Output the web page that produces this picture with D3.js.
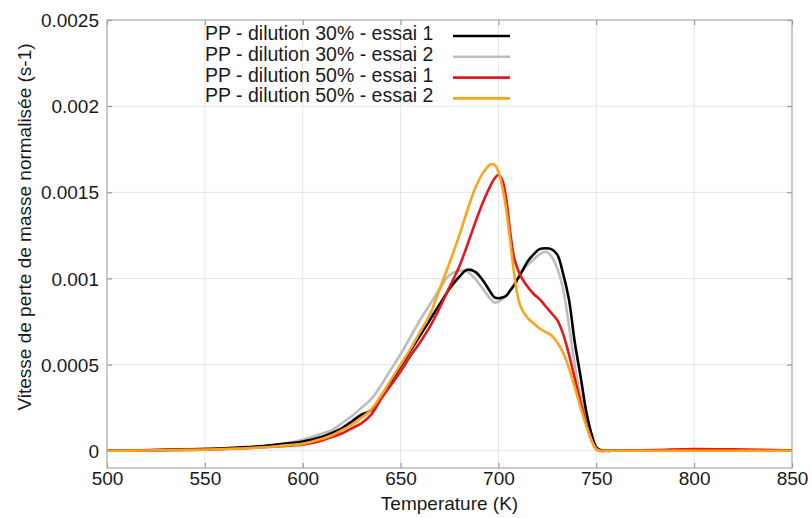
<!DOCTYPE html>
<html><head><meta charset="utf-8">
<script src="https://cdn.jsdelivr.net/npm/d3@7"></script>
<style>
body{margin:0;background:#fff;}
text{font-family:"Liberation Sans",Arial,sans-serif;fill:#1a1a1a;}
</style></head>
<body><svg id="c" width="812" height="518"></svg>
<script>
const temps = [500,520,540,560,580,590,600,610,615,620,625,630,635,640,645,650,655,660,665,670,675,680,684,688,692,696,698,700,702,704,706,708,710,712,715,718,721,724,727,730,733,736,739,742,745,748,750,752,755,760,780,800,820,850];
const black30_1 = [0,0.000003,0.000008,0.000015,0.000028,0.00004,0.000054,0.000082,0.000103,0.00013,0.00017,0.00021,0.000235,0.00031,0.0004,0.00049,0.00058,0.00067,0.00076,0.00085,0.00094,0.00101,0.00105,0.00104,0.00099,0.00092,0.00089,0.000885,0.00089,0.0009,0.00093,0.00096,0.001,0.00104,0.0011,0.00114,0.00117,0.001175,0.00117,0.00114,0.00103,0.00088,0.00063,0.00043,0.00022,0.00008,0.00002,0.000004,0,0,0,0,0,0];
const gray30_2 = [0,0.000004,0.00001,0.000012,0.000025,0.00004,0.000064,0.0001,0.00012,0.00016,0.0002,0.00025,0.0003,0.00038,0.00047,0.00056,0.00066,0.00076,0.00085,0.00094,0.00102,0.001045,0.00104,0.001,0.00094,0.00088,0.00086,0.000865,0.00088,0.0009,0.00093,0.00097,0.001,0.00104,0.00108,0.00111,0.00114,0.001155,0.00113,0.00106,0.00094,0.00073,0.0005,0.00031,0.00017,0.00006,0.00001,0,0,0,0,0,0,0];
const red50_1 = [0,0.000002,0.000005,0.00001,0.00002,0.000027,0.000035,0.00006,0.00008,0.0001,0.00013,0.00016,0.00021,0.0003,0.00038,0.00046,0.00055,0.00063,0.00072,0.00083,0.00095,0.00107,0.00119,0.00132,0.00144,0.00154,0.00158,0.0016,0.00157,0.00146,0.00127,0.00112,0.00105,0.001,0.00095,0.00091,0.00088,0.00084,0.0008,0.00076,0.00068,0.00056,0.00042,0.00028,0.00015,0.00005,0.00001,0,0,0,0.000004,0.00001,0.000008,0.000002];
const orange50_2 = [0,0.000002,0.000005,0.00001,0.00002,0.00003,0.00004,0.00007,0.00009,0.00012,0.00015,0.00019,0.00024,0.00032,0.00041,0.0005,0.00059,0.00069,0.00079,0.00094,0.00109,0.00125,0.00139,0.00152,0.00161,0.001663,0.00166,0.00162,0.00153,0.0014,0.00122,0.00103,0.00089,0.00082,0.00077,0.00074,0.00071,0.00069,0.00067,0.00063,0.00057,0.00048,0.00037,0.00025,0.00014,0.00005,0.00001,0,0,0,0,0,0,0];
const seriesNames = ["PP - dilution 30% - essai 1","PP - dilution 30% - essai 2","PP - dilution 50% - essai 1","PP - dilution 50% - essai 2"];
const seriesColors = ["#000000","#bdbdbd","#e8161c","#f8a51c"];
const xTicks = [500,550,600,650,700,750,800,850];
const yTicks = [0,0.0005,0.001,0.0015,0.002,0.0025];
const yTickLabels = ["0","0.0005","0.001","0.0015","0.002","0.0025"];

const svg = d3.select("#c");
const L=107,R=792,T=20,B=468;
const x = d3.scaleLinear().domain([500,850]).range([L,R]);
const y = d3.scaleLinear().domain([-0.0001,0.0025]).range([B,T]);

// grid
svg.append("g").selectAll("line").data(xTicks.slice(1,-1)).join("line")
  .attr("x1",d=>x(d)).attr("x2",d=>x(d)).attr("y1",T).attr("y2",B)
  .attr("stroke","#e4e4e4").attr("stroke-width",1);
svg.append("g").selectAll("line").data(yTicks.slice(0,-1)).join("line")
  .attr("x1",L).attr("x2",R).attr("y1",d=>y(d)).attr("y2",d=>y(d))
  .attr("stroke","#e4e4e4").attr("stroke-width",1);

// axes (ticks inward)
const xb = svg.append("g").attr("transform",`translate(0,${B})`)
  .call(d3.axisBottom(x).tickValues(xTicks).tickSize(-5).tickPadding(4).tickFormat(d3.format("d")));
const xt = svg.append("g").attr("transform",`translate(0,${T})`)
  .call(d3.axisTop(x).tickValues(xTicks).tickSize(-5).tickFormat(""));
const yl = svg.append("g").attr("transform",`translate(${L},0)`)
  .call(d3.axisLeft(y).tickValues(yTicks).tickSize(-5).tickPadding(8).tickFormat((d,i)=>yTickLabels[i]));
const yr = svg.append("g").attr("transform",`translate(${R},0)`)
  .call(d3.axisRight(y).tickValues(yTicks).tickSize(-5).tickFormat(""));
[xb,xt,yl,yr].forEach(g=>{
  g.select(".domain").remove();
  g.selectAll(".tick line").attr("stroke","#888");
  g.selectAll("text").attr("font-size","19px").attr("font-family","Liberation Sans, Arial, sans-serif").attr("fill","#1a1a1a");
});
yl.selectAll("text").attr("dy","0.35em");
svg.append("rect").attr("x",L).attr("y",T).attr("width",R-L).attr("height",B-T)
  .attr("fill","none").attr("stroke","#a8a8a8").attr("stroke-width",1.2);

// lines
const seriesData = [black30_1,gray30_2,red50_1,orange50_2];
const line = d3.line().x(d=>x(d[0])).y(d=>y(d[1])).curve(d3.curveCatmullRom.alpha(0.5));
const order=[1,0,2,3];
order.forEach(i=>{
  svg.append("path").datum(temps.map((t,j)=>[t,seriesData[i][j]]))
    .attr("d",line).attr("fill","none").attr("stroke",seriesColors[i])
    .attr("stroke-width",2.6).attr("stroke-linejoin","round");
});

// legend
const lg = svg.append("g");
seriesNames.forEach((n,i)=>{
  const by = 40 + i*20.8;
  lg.append("text").attr("x",205).attr("y",by).attr("font-size","19.5px").text(n);
  lg.append("line").attr("x1",453).attr("x2",510).attr("y1",by-4).attr("y2",by-4)
    .attr("stroke",seriesColors[i]).attr("stroke-width",2.6);
});

// axis titles
svg.append("text").attr("x",(L+R)/2).attr("y",510).attr("text-anchor","middle")
  .attr("font-size","19px").text("Temperature (K)");
svg.append("text").attr("transform","translate(31,227) rotate(-90)").attr("text-anchor","middle")
  .attr("font-size","19px").text("Vitesse de perte de masse normalisée (s-1)");
</script></body></html>
